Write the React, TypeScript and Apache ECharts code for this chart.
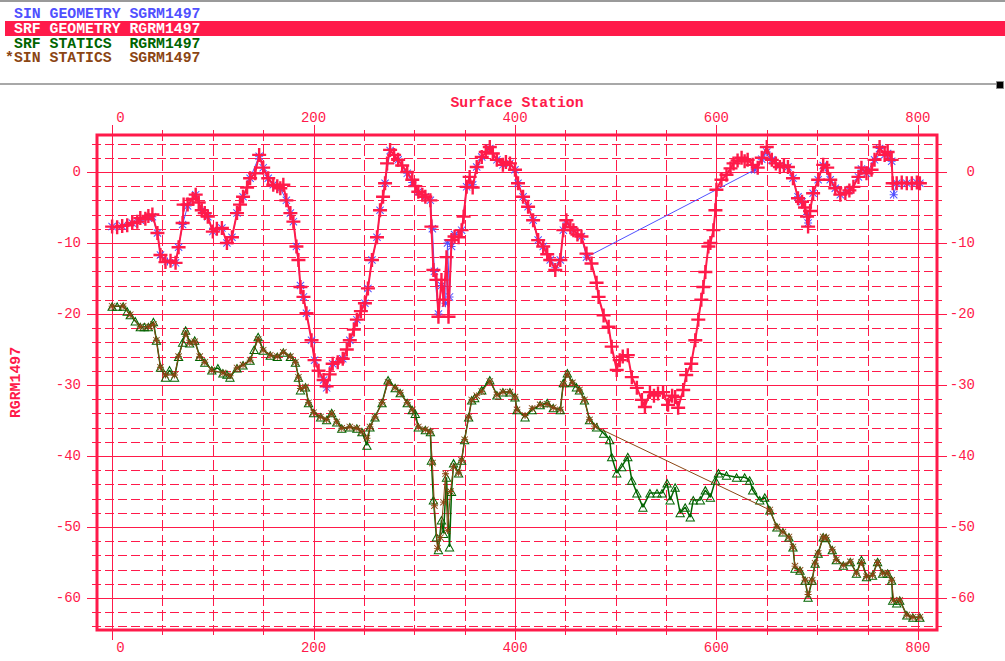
import React, { useEffect, useRef } from "react";
import * as echarts from "echarts";

const RED = "#ff1a4a";
const BLUE = "#5050ff";
const GREEN = "#006400";
const BROWN = "#8b4513";
const MONO = '"Liberation Mono", "DejaVu Sans Mono", monospace';

const legendRows = [
  "SIN GEOMETRY SGRM1497",
  "SRF GEOMETRY RGRM1497",
  "SRF STATICS \u00a0RGRM1497",
  "*SIN STATICS \u00a0SGRM1497",
];
const xAxisTitle = "Surface Station";
const yAxisTitle = "RGRM1497";

const xLabelTicks = [0, 200, 400, 600, 800];
const xMinorTicks = [50, 100, 150, 250, 300, 350, 450, 500, 550, 650, 700, 750];
const yLabelTicks = [0, -10, -20, -30, -40, -50, -60];
const yMinorTicks = [4, 2, -2, -4, -6, -8, -12, -14, -16, -18, -22, -24, -26, -28, -32, -34, -36, -38, -42, -44, -46, -48, -52, -54, -56, -58, -62, -64];

// SRF GEOMETRY RGRM1497 (red)
const srfGeometry: [number, number][] = [
  [0, -7.7], [5, -7.8], [10, -7.6], [15, -7.5], [20, -7.2], [25, -7.0], [28, -6.5], [33, -6.6], [36, -6.2], [40, -6.0],
  [45, -8.6], [48, -11.7], [53, -12.7], [58, -12.5], [63, -12.8], [66, -10.6], [70, -7.2], [71, -4.6], [75, -4.6], [80, -3.8],
  [83, -3.2], [86, -4.3], [89, -5.4], [92, -5.8], [95, -6.3], [100, -8.4], [104, -8.0], [109, -7.9], [114, -10.0], [119, -9.2],
  [124, -5.8], [127, -4.6], [130, -3.5], [134, -2.2], [137, -0.9], [142, -0.2], [146, 2.4], [150, 0.6], [155, -0.9], [160, -1.8],
  [164, -2.0], [167, -2.3], [170, -1.8], [173, -4.0], [177, -5.8], [180, -7.0], [183, -10.5], [185, -12.4], [187, -16.2], [190, -17.6],
  [193, -19.9], [198, -23.7], [201, -26.5], [205, -28.0], [210, -29.3], [213, -30.2], [216, -28.5], [219, -27.0], [224, -26.8], [229, -26.3],
  [233, -25.0], [236, -23.7], [240, -22.2], [243, -20.8], [247, -19.6], [251, -18.5], [254, -16.4], [258, -12.4], [263, -9.2], [266, -5.4],
  [269, -3.5], [271, -1.6], [273, 1.2], [276, 3.1], [280, 2.4], [284, 1.7], [288, 0.9], [293, 0.0], [298, -1.1], [301, -2.0],
  [304, -2.8], [308, -3.2], [311, -3.5], [316, -4.0], [317, -7.7], [319, -13.8], [322, -15.2], [324, -20.4], [327, -15.2], [329, -18.0],
  [332, -12.0], [334, -20.4], [337, -9.6], [340, -9.1], [344, -9.2], [347, -8.2], [349, -6.3], [352, -2.1], [355, -0.7], [358, -2.2],
  [362, 0.7], [367, 2.1], [371, 2.8], [375, 3.5], [378, 2.6], [382, 1.7], [388, 1.0], [391, 1.4], [395, 1.2], [400, 0.3],
  [403, -1.6], [408, -3.5], [413, -4.9], [418, -6.8], [423, -9.6], [428, -10.5], [432, -11.6], [435, -12.4], [440, -13.8], [445, -12.4],
  [448, -8.2], [451, -6.8], [455, -7.8], [458, -8.2], [462, -8.8], [466, -9.1], [471, -11.5], [476, -12.9], [481, -15.6], [483, -17.6],
  [488, -20.2], [493, -21.8], [496, -24.6], [501, -27.9], [504, -26.5], [507, -26.0], [512, -25.8], [516, -28.9], [521, -30.4], [526, -32.1],
  [529, -33.1], [534, -31.0], [538, -31.5], [542, -31.2], [547, -31.0], [552, -32.8], [556, -31.5], [559, -31.7], [562, -33.2], [567, -30.7],
  [570, -28.6], [575, -27.0], [579, -23.7], [582, -20.8], [585, -18.0], [587, -16.2], [589, -14.1], [592, -10.5], [594, -10.0], [597, -8.2],
  [599, -5.4], [600, -2.5], [605, -1.1], [610, -0.4], [614, 0.5], [617, 1.2], [621, 1.6], [625, 2.0], [628, 1.5], [631, 1.7],
  [636, 1.0], [641, 0.6], [645, 2.0], [650, 3.5], [655, 1.7], [659, 1.2], [663, 0.7], [667, 0.9], [671, 0.7], [676, -0.9],
  [681, -3.7], [685, -4.2], [688, -5.0], [690, -6.3], [691, -7.7], [693, -5.5], [696, -3.0], [701, -1.1], [706, 1.0], [710, 0.6],
  [713, -1.1], [718, -2.3], [723, -3.2], [728, -3.0], [732, -2.6], [736, -2.1], [741, -0.7], [744, 0.6], [749, -0.2], [754, 0.3],
  [757, 1.7], [762, 3.5], [767, 2.4], [770, 2.8], [774, 1.7], [775, -1.6], [779, -1.6], [784, -1.5], [789, -1.6], [794, -1.6],
  [799, -1.5], [802, -1.6],
];

// SIN GEOMETRY SGRM1497 (blue)
const sinGeometry: [number, number][] = [
  [0, -7.7], [10, -7.6], [20, -7.2], [28, -6.8], [36, -6.5], [40, -6.3], [45, -8.6], [48, -11.7], [55, -12.6], [63, -12.8],
  [66, -10.6], [70, -7.4], [75, -4.8], [83, -3.2], [89, -5.4], [95, -6.3], [100, -8.4], [109, -7.9], [114, -10.0], [119, -9.2],
  [124, -5.8], [130, -3.5], [137, -0.9], [146, 2.2], [150, 0.6], [155, -0.9], [160, -1.8], [167, -2.3], [173, -4.0], [177, -5.8],
  [180, -7.0], [183, -10.5], [187, -16.0], [190, -17.6], [193, -19.9], [198, -23.7], [201, -26.5], [210, -29.3], [213, -30.4], [219, -27.0],
  [229, -26.3], [236, -23.7], [243, -20.8], [251, -18.5], [254, -16.4], [258, -12.4], [263, -9.2], [266, -5.4], [271, -1.6], [276, 3.0],
  [284, 1.7], [293, -0.2], [298, -1.5], [304, -2.8], [311, -3.5], [316, -4.0], [318, -8.0], [320, -14.0], [324, -20.0], [327, -16.0],
  [331, -18.5], [333, -10.0], [335, -17.6], [337, -10.5], [340, -8.8], [347, -8.2], [352, -2.1], [358, -1.8], [362, 0.7], [367, 2.1],
  [375, 3.3], [382, 1.7], [388, 1.0], [395, 1.2], [400, 0.3], [403, -1.6], [408, -3.5], [413, -4.9], [418, -6.8], [423, -9.6],
  [428, -10.5], [435, -12.4], [440, -13.5], [445, -12.4], [448, -8.2], [451, -7.2], [458, -8.2], [466, -9.1], [471, -12.0], [638, 0.3],
  [645, 1.8], [650, 2.8], [655, 1.7], [663, 0.9], [671, 0.7], [676, -0.9], [681, -3.5], [685, -4.2], [690, -6.0], [691, -7.2],
  [696, -3.0], [701, -1.1], [706, 0.9], [713, -1.1], [718, -2.3], [723, -3.2], [732, -2.6], [741, -0.7], [744, 0.4], [749, -0.2],
  [757, 1.7], [762, 3.3], [767, 2.4], [770, 2.6], [774, 1.5], [776, -3.2], [779, -1.6], [789, -1.6], [799, -1.5], [802, -1.6],
];

// SRF STATICS RGRM1497 (green)
const srfStatics: [number, number][] = [
  [0, -18.9], [5, -18.9], [11, -18.9], [15, -19.6], [18, -20.1], [23, -21.0], [28, -21.8], [32, -21.8], [36, -21.8], [41, -21.1],
  [44, -23.7], [48, -27.5], [53, -28.9], [57, -27.9], [62, -28.9], [66, -26.0], [70, -24.0], [73, -22.3], [77, -24.1], [82, -23.7],
  [87, -26.0], [92, -26.8], [99, -27.9], [105, -27.6], [110, -28.3], [114, -28.5], [117, -28.9], [124, -27.6], [130, -27.2], [137, -26.5],
  [141, -25.0], [145, -23.2], [150, -25.1], [157, -25.8], [164, -26.0], [170, -25.4], [177, -26.0], [182, -26.8], [185, -28.9], [187, -30.7],
  [192, -30.3], [195, -32.5], [200, -33.9], [207, -34.5], [213, -34.9], [218, -33.9], [223, -35.2], [228, -36.1], [236, -35.9], [243, -36.1],
  [248, -36.6], [253, -38.5], [256, -35.9], [261, -34.5], [268, -32.5], [274, -29.3], [281, -30.4], [286, -31.1], [293, -32.5], [298, -33.5],
  [301, -34.0], [304, -35.9], [311, -36.3], [316, -36.6], [317, -40.6], [319, -46.2], [322, -51.4], [324, -53.2], [327, -49.0], [329, -50.9],
  [332, -43.0], [335, -52.8], [337, -45.0], [339, -41.0], [344, -42.4], [347, -40.6], [350, -37.7], [354, -34.5], [357, -32.1], [360, -31.8],
  [367, -30.7], [375, -29.3], [382, -31.4], [388, -31.0], [395, -31.0], [400, -31.7], [402, -33.5], [410, -34.5], [417, -33.5], [425, -32.8],
  [432, -32.5], [438, -33.2], [445, -33.5], [448, -29.7], [452, -28.3], [457, -29.7], [461, -30.3], [464, -30.7], [469, -32.1], [474, -34.9],
  [481, -35.9], [488, -36.8], [494, -37.7], [496, -40.1], [501, -42.4], [506, -41.5], [512, -40.1], [516, -43.4], [521, -45.2], [527, -47.2],
  [534, -45.2], [541, -45.2], [546, -45.2], [551, -43.8], [554, -46.2], [559, -44.4], [564, -48.0], [569, -47.2], [574, -48.6], [577, -46.2],
  [584, -46.2], [589, -44.8], [594, -45.8], [599, -43.4], [602, -42.4], [610, -42.7], [620, -43.0], [628, -43.0], [633, -43.4], [636, -44.8],
  [643, -46.2], [648, -45.8], [653, -47.6], [660, -50.0], [666, -50.7], [672, -51.4], [676, -52.8], [678, -55.8], [683, -56.1], [688, -57.5],
  [691, -59.9], [695, -57.5], [698, -55.1], [701, -53.7], [706, -51.4], [709, -51.5], [715, -53.2], [719, -54.6], [726, -55.4], [733, -54.9],
  [739, -56.5], [744, -54.6], [749, -57.0], [755, -56.8], [760, -54.9], [765, -56.5], [770, -56.5], [774, -57.5], [775, -60.3], [779, -60.7],
  [782, -60.3], [789, -62.4], [795, -62.7], [802, -62.7],
];

// SIN STATICS SGRM1497 (brown)
const sinStatics: [number, number][] = [
  [0, -18.9], [11, -18.9], [18, -20.1], [28, -21.8], [36, -21.8], [41, -21.5], [44, -23.7], [48, -27.5], [53, -28.6], [62, -28.6],
  [66, -26.0], [73, -22.8], [77, -24.1], [82, -23.9], [87, -26.0], [92, -26.8], [99, -27.9], [110, -28.3], [117, -28.7], [124, -27.6],
  [130, -27.2], [137, -26.5], [145, -23.6], [150, -25.1], [157, -25.8], [164, -26.0], [170, -25.4], [177, -26.0], [182, -26.8], [185, -28.9],
  [187, -30.5], [192, -30.3], [195, -32.5], [200, -33.9], [207, -34.5], [213, -34.9], [218, -34.0], [223, -35.2], [228, -36.1], [236, -35.9],
  [243, -36.1], [248, -36.6], [253, -37.5], [256, -35.9], [261, -34.5], [268, -32.5], [274, -29.6], [281, -30.4], [286, -31.1], [293, -32.5],
  [298, -33.5], [304, -35.9], [311, -36.3], [316, -36.6], [318, -41.0], [320, -47.0], [323, -53.0], [326, -51.5], [329, -46.5], [331, -42.5],
  [333, -50.5], [336, -45.0], [339, -41.5], [344, -42.4], [347, -40.6], [350, -37.7], [354, -34.5], [357, -32.1], [362, -31.5], [367, -30.9],
  [375, -29.5], [382, -31.4], [388, -31.0], [395, -31.0], [400, -31.7], [402, -33.5], [410, -34.3], [417, -33.3], [425, -32.8], [432, -32.7],
  [438, -33.2], [445, -33.5], [448, -29.9], [452, -28.5], [457, -29.7], [464, -30.7], [469, -32.1], [474, -34.9], [479, -35.8], [653, -47.6],
  [660, -50.0], [666, -50.7], [672, -51.4], [676, -52.8], [678, -55.5], [683, -56.1], [688, -57.5], [691, -59.5], [695, -57.5], [698, -55.1],
  [701, -53.7], [706, -51.4], [709, -51.5], [715, -53.2], [719, -54.6], [726, -55.4], [733, -54.9], [739, -56.5], [744, -55.0], [749, -57.0],
  [755, -56.8], [760, -55.0], [765, -56.5], [770, -56.5], [774, -57.5], [776, -60.3], [782, -60.3], [789, -62.4], [795, -62.7], [802, -62.7],
];

const PLUS = "path://M0,5.8H14V8.2H0Z M5.8,0H8.2V14H5.8Z";
const STAR = "path://M0,3.5H8V4.5H0Z M3.5,0H4.5V8H3.5Z M0.7,0L8,7.3L7.3,8L0,0.7Z M7.3,0L8,0.7L0.7,8L0,7.3Z";
const TRI = "path://M5,0L10,9L0,9Z M5,2.3L1.6,8L8.4,8Z";

const X_MIN = -15;
const X_MAX = 819;
const Y_MIN = -64.5;
const Y_MAX = 5.2;

function buildGridData() {
  const d: { value: [number, number] }[] = [];
  xLabelTicks.forEach((v) => d.push({ value: [v, 0] }));
  xMinorTicks.forEach((v) => d.push({ value: [v, 1] }));
  yLabelTicks.forEach((v) => d.push({ value: [v, 2] }));
  yMinorTicks.forEach((v) => d.push({ value: [v, 3] }));
  return d;
}

function padLabel(v: number) {
  return String(v).padStart(3, "\u00a0");
}

export default function App() {
  const ref = useRef<HTMLDivElement>(null);
  useEffect(() => {
    if (!ref.current) return;
    const chart = echarts.init(ref.current, null, { renderer: "svg" });
    const labelStyle = { color: RED, fontFamily: MONO, fontSize: 14, lineHeight: 14 };
    const option: any = {
      animation: false,
      backgroundColor: "#ffffff",
      grid: {
        left: 97,
        top: 135,
        width: 840,
        height: 495,
        show: true,
        borderColor: RED,
        borderWidth: 3,
        backgroundColor: "transparent",
      },
      xAxis: [
        {
          type: "value",
          position: "top",
          min: X_MIN,
          max: X_MAX,
          name: xAxisTitle,
          nameLocation: "middle",
          nameGap: 25,
          nameMoveOverlap: false,
          nameTextStyle: { color: RED, fontFamily: MONO, fontWeight: "bold", fontSize: 14.8, lineHeight: 14 },
          axisLine: { show: false },
          axisTick: { show: false },
          splitLine: { show: false },
          axisLabel: { ...labelStyle, customValues: xLabelTicks, formatter: padLabel, margin: 10 },
        },
        {
          type: "value",
          position: "bottom",
          min: X_MIN,
          max: X_MAX,
          axisLine: { show: false },
          axisTick: { show: false },
          splitLine: { show: false },
          axisLabel: { ...labelStyle, customValues: xLabelTicks, formatter: padLabel, margin: 11 },
        },
      ],
      yAxis: [
        {
          type: "value",
          position: "left",
          min: Y_MIN,
          max: Y_MAX,
          name: yAxisTitle,
          nameLocation: "middle",
          nameGap: 74,
          nameRotate: 90,
          nameMoveOverlap: false,
          nameTextStyle: { color: RED, fontFamily: MONO, fontWeight: "bold", fontSize: 14.8 },
          axisLine: { show: false },
          axisTick: { show: false },
          splitLine: { show: false },
          axisLabel: { ...labelStyle, customValues: yLabelTicks, margin: 16 },
        },
        {
          type: "value",
          position: "right",
          min: Y_MIN,
          max: Y_MAX,
          axisLine: { show: false },
          axisTick: { show: false },
          splitLine: { show: false },
          axisLabel: { ...labelStyle, customValues: yLabelTicks, margin: 38, align: "right" },
        },
      ],
      graphic: [
        { type: "rect", shape: { x: 0, y: 0, width: 1005, height: 2 }, style: { fill: "#9a9a9a" } },
        { type: "rect", shape: { x: 5, y: 21, width: 1000, height: 15 }, style: { fill: RED } },
        { type: "text", x: 14, y: 13.5, style: { text: legendRows[0], fill: BLUE, font: `bold 14.8px ${MONO}`, verticalAlign: "middle" } },
        { type: "text", x: 14, y: 28.5, style: { text: legendRows[1], fill: "#ffffff", font: `bold 14.8px ${MONO}`, verticalAlign: "middle" } },
        { type: "text", x: 14, y: 43.5, style: { text: legendRows[2], fill: GREEN, font: `bold 14.8px ${MONO}`, verticalAlign: "middle" } },
        { type: "text", x: 5.1, y: 58, style: { text: legendRows[3], fill: BROWN, font: `bold 14.8px ${MONO}`, verticalAlign: "middle" } },
        { type: "rect", shape: { x: 0, y: 83, width: 996, height: 2 }, style: { fill: "#a8a8a8" } },
        { type: "rect", shape: { x: 996.5, y: 81.5, width: 7, height: 7 }, style: { fill: "#000000", stroke: "#888888", lineWidth: 1 } },
      ],
      series: [
        {
          type: "custom",
          name: "grid",
          clip: false,
          silent: true,
          z: 1,
          data: buildGridData(),
          renderItem: (params: any, api: any) => {
            const v = api.value(0);
            const k = api.value(1);
            const cs = params.coordSys;
            const major = k === 0 || k === 2;
            const ext = major ? 10 : 5;
            const style: any = { stroke: RED, lineWidth: 1, fill: null };
            if (!major) style.lineDash = k === 1 ? [11, 4] : [9, 4];
            if (k < 2) {
              const x = Math.round(api.coord([v, 0])[0]) + 0.5;
              return { type: "line", shape: { x1: x, y1: cs.y - ext, x2: x, y2: cs.y + cs.height + ext }, style };
            }
            const y = Math.round(api.coord([0, v])[1]) + 0.5;
            return { type: "line", shape: { x1: cs.x - ext, y1: y, x2: cs.x + cs.width + ext, y2: y }, style };
          },
        },
        {
          type: "line",
          name: "SIN GEOMETRY SGRM1497",
          data: sinGeometry,
          z: 2,
          symbol: STAR,
          symbolSize: 8,
          itemStyle: { color: BLUE },
          lineStyle: { color: BLUE, width: 1 },
        },
        {
          type: "line",
          name: "SRF GEOMETRY RGRM1497",
          data: srfGeometry,
          z: 3,
          symbol: PLUS,
          symbolSize: 14,
          itemStyle: { color: RED },
          lineStyle: { color: RED, width: 2 },
        },
        {
          type: "line",
          name: "SRF STATICS RGRM1497",
          data: srfStatics,
          z: 4,
          symbol: TRI,
          symbolSize: [10, 9],
          itemStyle: { color: GREEN },
          lineStyle: { color: GREEN, width: 1.5 },
        },
        {
          type: "line",
          name: "SIN STATICS SGRM1497",
          data: sinStatics,
          z: 5,
          symbol: STAR,
          symbolSize: 7,
          itemStyle: { color: BROWN },
          lineStyle: { color: BROWN, width: 1 },
        },
      ],
    };
    chart.setOption(option);
    return () => chart.dispose();
  }, []);
  return (
    <div
      ref={ref}
      style={{ position: "fixed", left: 0, top: 0, width: 1005, height: 661, background: "#ffffff" }}
    />
  );
}
